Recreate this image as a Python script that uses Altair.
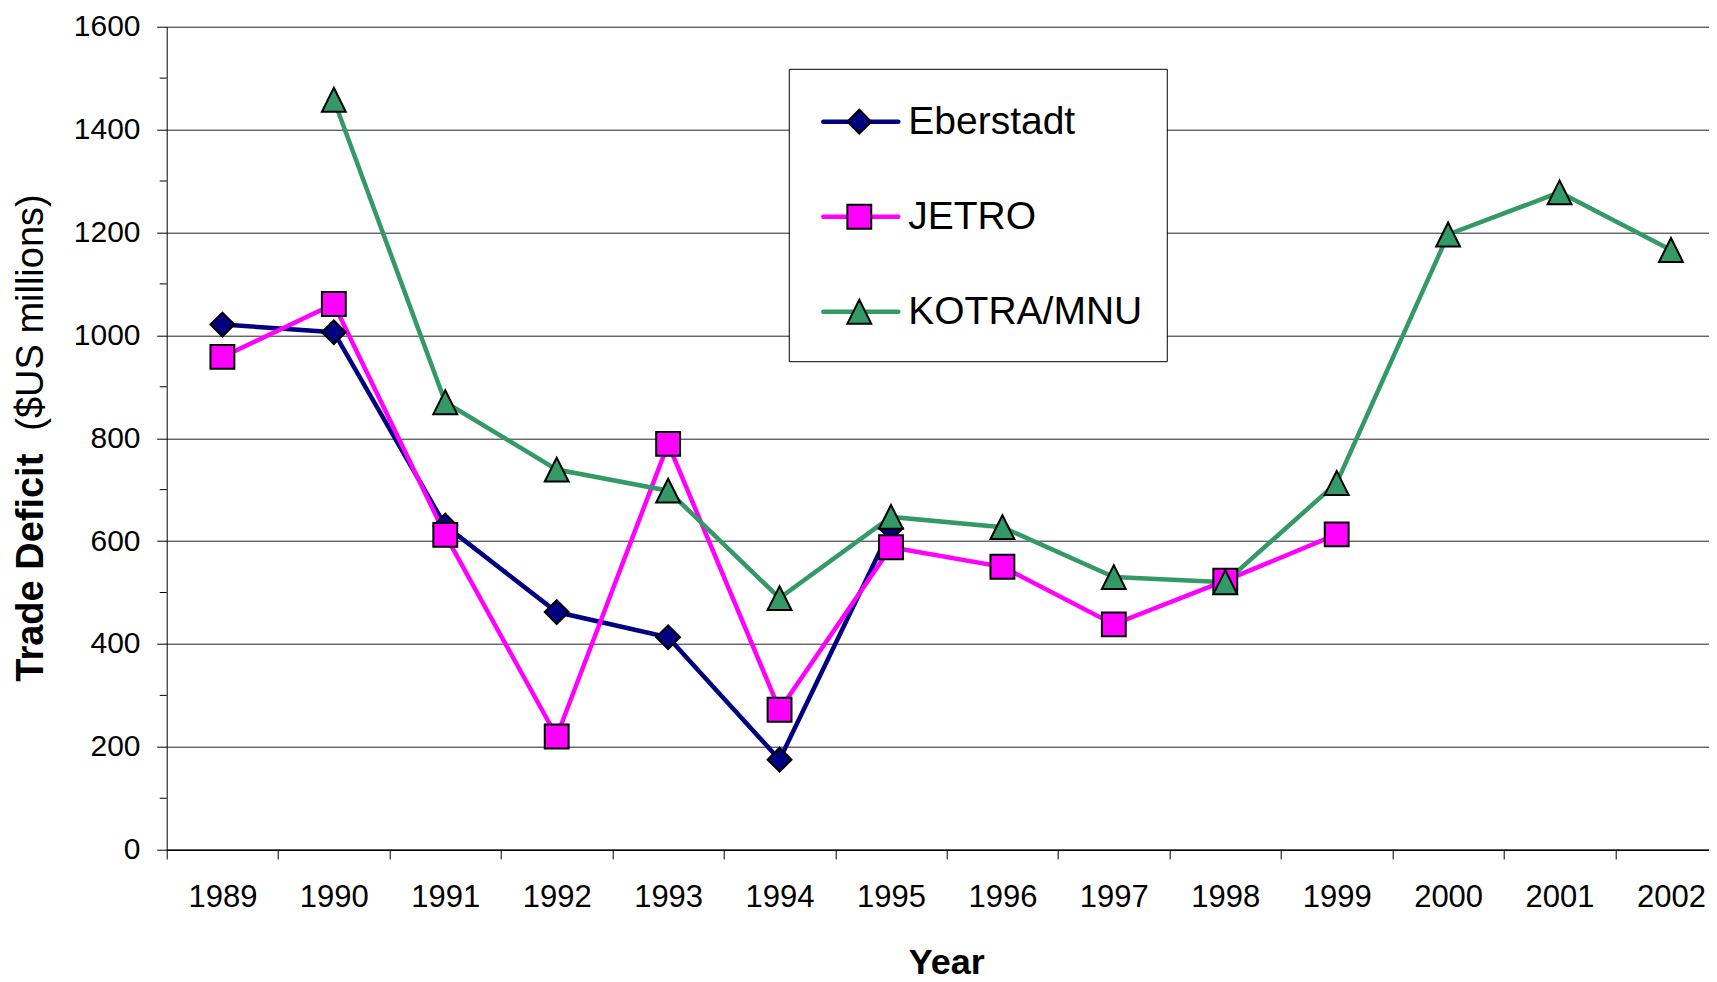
import altair as alt
import pandas as pd

FONT = "Liberation Sans"

years = [1989, 1990, 1991, 1992, 1993, 1994, 1995, 1996, 1997, 1998, 1999, 2000, 2001, 2002]
series_names = ["Eberstadt", "JETRO", "KOTRA/MNU"]
eberstadt = [1021, 1006, 630, 462, 413, 175, 625, None, None, None, None, None, None, None]
jetro = [958, 1061, 612, 220, 789, 272, 588, 550, 438, 523, 613, None, None, None]
kotra = [None, 1458, 870, 739, 698, 489, 647, 627, 530, 520, 713, 1196, 1278, 1166]
series_colors = ["#000080", "#FF00FF", "#339966"]
series_shapes = ["diamond", "square", "M0,-1L1,1L-1,1Z"]
y_ticks = [0, 200, 400, 600, 800, 1000, 1200, 1400, 1600]
y_minor = [100, 300, 500, 700, 900, 1100, 1300, 1500]

rows = []
for name, vals in zip(series_names, [eberstadt, jetro, kotra]):
    for yr, v in zip(years, vals):
        if v is not None:
            rows.append({"series": name, "year": yr, "value": v})
df = pd.DataFrame(rows)

W, H = 1560, 823

x_enc = alt.X(
    "year:O",
    scale=alt.Scale(type="band", domain=years, paddingInner=0, paddingOuter=0, round=False),
    axis=alt.Axis(
        title=None, labelAngle=0, labelFont=FONT, labelFontSize=31, labelColor="black",
        labelPadding=23.8, tickBand="extent", tickSize=9.3, tickColor="black", tickWidth=1,
        domainColor="black", domainWidth=1.6, grid=False, labelOverlap=False, labelFlush=False,
    ),
)
y_enc = alt.Y(
    "value:Q",
    scale=alt.Scale(domain=[0, 1600], nice=False, zero=True),
    axis=alt.Axis(
        title=None, values=y_ticks, labelFont=FONT, labelFontSize=30, labelColor="black",
        labelPadding=16.7, tickSize=10, tickColor="black", tickWidth=1, domainColor="black",
        domainWidth=1, grid=True, gridColor="#222222", gridWidth=1, labelFlush=False,
        labelOverlap=False, format="d",
    ),
)

color_enc = alt.Color("series:N", scale=alt.Scale(domain=series_names, range=series_colors), legend=None)
shape_enc = alt.Shape("series:N", scale=alt.Scale(domain=series_names, range=series_shapes), legend=None)

lines = alt.Chart(df).mark_line(strokeWidth=4.5).encode(x=x_enc, y=y_enc, color=color_enc)
points = alt.Chart(df).mark_point(filled=True, size=570, stroke="black", strokeWidth=2, opacity=1).encode(
    x=x_enc, y=y_enc, fill=color_enc, shape=shape_enc
)

minor = alt.Chart(pd.DataFrame({"value": y_minor})).mark_rule(color="black", strokeWidth=1).encode(
    y=y_enc, x=alt.value(-7), x2=alt.value(0)
)

ytitle_bold = alt.Chart(pd.DataFrame({"t": ["Trade Deficit"]})).mark_text(
    angle=270, align="left", baseline="alphabetic", font=FONT, fontSize=38, fontWeight="bold", color="black"
).encode(x=alt.value(-123.4), y=alt.value(655), text="t:N")
ytitle_reg = alt.Chart(pd.DataFrame({"t": ["($US millions)"]})).mark_text(
    angle=270, align="left", baseline="alphabetic", font=FONT, fontSize=38, color="black"
).encode(x=alt.value(-123.4), y=alt.value(404), text="t:N")
xtitle = alt.Chart(pd.DataFrame({"t": ["Year"]})).mark_text(
    align="center", baseline="alphabetic", font=FONT, fontSize=36, fontWeight="bold", color="black"
).encode(x=alt.value(W / 2), y=alt.value(947.3), text="t:N")

legend_layers = [
    alt.Chart(pd.DataFrame({"b": [0]})).mark_rect(fill="white", stroke="black", strokeWidth=1).encode(
        x=alt.value(622.6), x2=alt.value(1000.6), y=alt.value(42.6), y2=alt.value(335)
    )
]
for i, (name, col, shp) in enumerate(zip(series_names, series_colors, series_shapes)):
    ry = 95 + 95 * i
    ldf = pd.DataFrame({"series": [name]})
    legend_layers.append(
        alt.Chart(ldf).mark_rule(color=col, strokeWidth=4.5, strokeCap="round").encode(
            x=alt.value(656.6), x2=alt.value(731.6), y=alt.value(ry)
        )
    )
    legend_layers.append(
        alt.Chart(ldf).mark_point(shape=shp, filled=True, fill=col, stroke="black", strokeWidth=2,
                                  size=570, opacity=1).encode(x=alt.value(692.6), y=alt.value(ry))
    )
    legend_layers.append(
        alt.Chart(ldf).mark_text(align="left", baseline="middle", font=FONT, fontSize=39, color="black").encode(
            x=alt.value(741.6), y=alt.value(ry), text="series:N"
        )
    )

chart = alt.layer(lines, points, minor, ytitle_bold, ytitle_reg, xtitle, *legend_layers).properties(
    width=W, height=H,
    autosize=alt.AutoSizeParams(type="none"),
    padding={"left": 158.7, "top": 18.7, "right": -18, "bottom": 133.3},
    background="white",
).configure_view(stroke=None)

chart.save("out.html", embed_options={"renderer": "svg", "actions": False})
